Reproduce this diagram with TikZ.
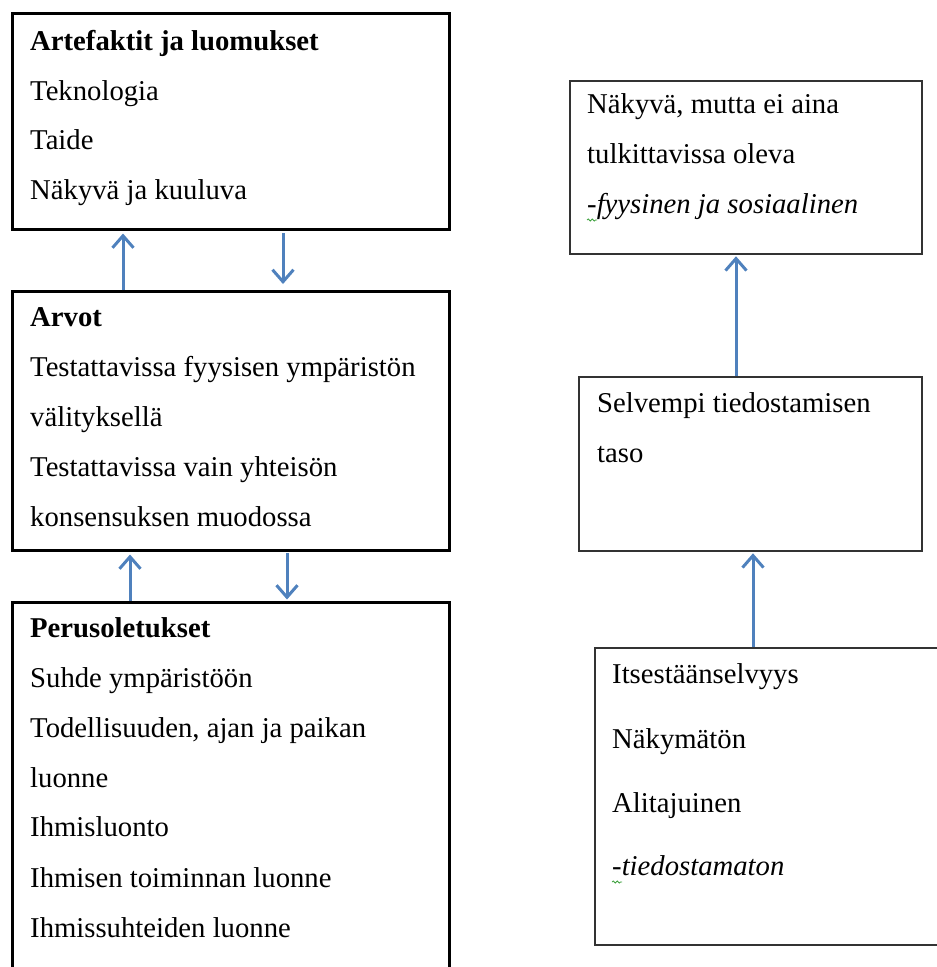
\documentclass[tikz,border=0pt]{standalone}
\usepackage{fontspec}
\setmainfont{Liberation Serif}
\usetikzlibrary{arrows.meta,decorations.pathmorphing}
\definecolor{arrowblue}{RGB}{79,129,189}
\definecolor{spellgreen}{RGB}{60,160,60}
\begin{document}
\begin{tikzpicture}[x=1pt,y=-1pt,
  thickbox/.style={draw=black, line width=3pt, anchor=north west, inner sep=0pt},
  thinbox/.style={draw=black!80, line width=1.8pt, anchor=north west, inner sep=0pt},
  txt/.style={anchor=base west, inner sep=0pt, font=\fontsize{28.7}{34}\selectfont},
  arr/.style={draw=arrowblue, line width=3pt, -{Straight Barb[length=12pt,width=21pt]}},
  squig/.style={draw=spellgreen, line width=0.8pt, decorate, decoration={snake, amplitude=1pt, segment length=4pt}}]
\useasboundingbox (0,0) rectangle (937,967);
\clip (0,0) rectangle (937,967);

% left column boxes
\node[thickbox, minimum width=437pt, minimum height=216pt] (b1) at (11,12) {};
\node[thickbox, minimum width=437pt, minimum height=259pt] (b2) at (11,290) {};
\node[thickbox, minimum width=437pt, minimum height=420pt] (b3) at (11,601) {};

% right column boxes
\node[thinbox, minimum width=352pt, minimum height=173pt] (b4) at (569,80) {};
\node[thinbox, minimum width=343pt, minimum height=174pt] (b5) at (578,376) {};
\node[thinbox, minimum width=400pt, minimum height=297pt] (b6) at (594,647) {};

% box 1 text
\node[txt] (t11) at (30,50) {\bfseries Artefaktit ja luomukset};
\node[txt] (t12) at (30,100) {Teknologia};
\node[txt] (t13) at (30,149) {Taide};
\node[txt] (t14) at (30,199) {Näkyvä ja kuuluva};

% box 2 text
\node[txt] (t21) at (30,326) {\bfseries Arvot};
\node[txt] (t22) at (30,376) {Testattavissa fyysisen ympäristön};
\node[txt] (t23) at (30,426) {välityksellä};
\node[txt] (t24) at (30,476) {Testattavissa vain yhteisön};
\node[txt] (t25) at (30,526) {konsensuksen muodossa};

% box 3 text
\node[txt] (t31) at (30,637) {\bfseries Perusoletukset};
\node[txt] (t32) at (30,687) {Suhde ympäristöön};
\node[txt] (t33) at (30,737) {Todellisuuden, ajan ja paikan};
\node[txt] (t34) at (30,787) {luonne};
\node[txt] (t35) at (30,836) {Ihmisluonto};
\node[txt] (t36) at (30,887) {Ihmisen toiminnan luonne};
\node[txt] (t37) at (30,937) {Ihmissuhteiden luonne};

% box 4 text
\node[txt] (t41) at (587,113) {Näkyvä, mutta ei aina};
\node[txt] (t42) at (587,163) {tulkittavissa oleva};
\node[txt] (t43) at (587,213) {\itshape -fyysinen ja sosiaalinen};

% box 5 text
\node[txt] (t51) at (597,412) {Selvempi tiedostamisen};
\node[txt] (t52) at (597,462) {taso};

% box 6 text
\node[txt] (t61) at (612,683) {Itsestäänselvyys};
\node[txt] (t62) at (612,748) {Näkymätön};
\node[txt] (t63) at (612,812) {Alitajuinen};
\node[txt] (t64) at (612,875) {\itshape -tiedostamaton};

% spelling squiggles
\draw[squig] (587,220) -- (597,220);
\draw[squig] (612,882) -- (622,882);

% arrow x positions
\coordinate (xa) at (123,0);
\coordinate (xb) at (283,0);
\coordinate (xc) at (130,0);
\coordinate (xd) at (287,0);
\coordinate (xe) at (736,0);
\coordinate (xf) at (753,0);

% arrows
\draw[arr, shorten >=2.5pt] (xa |- b2.north) -- (xa |- b1.south);
\draw[arr, shorten <=2pt, shorten >=6pt] (xb |- b1.south) -- (xb |- b2.north);
\draw[arr, shorten >=2.5pt] (xc |- b3.north) -- (xc |- b2.south);
\draw[arr, shorten <=1pt, shorten >=1.5pt] (xd |- b2.south) -- (xd |- b3.north);
\draw[arr, shorten >=1.5pt] (xe |- b5.north) -- (xe |- b4.south);
\draw[arr, shorten >=1.5pt] (xf |- b6.north) -- (xf |- b5.south);
\end{tikzpicture}
\end{document}
